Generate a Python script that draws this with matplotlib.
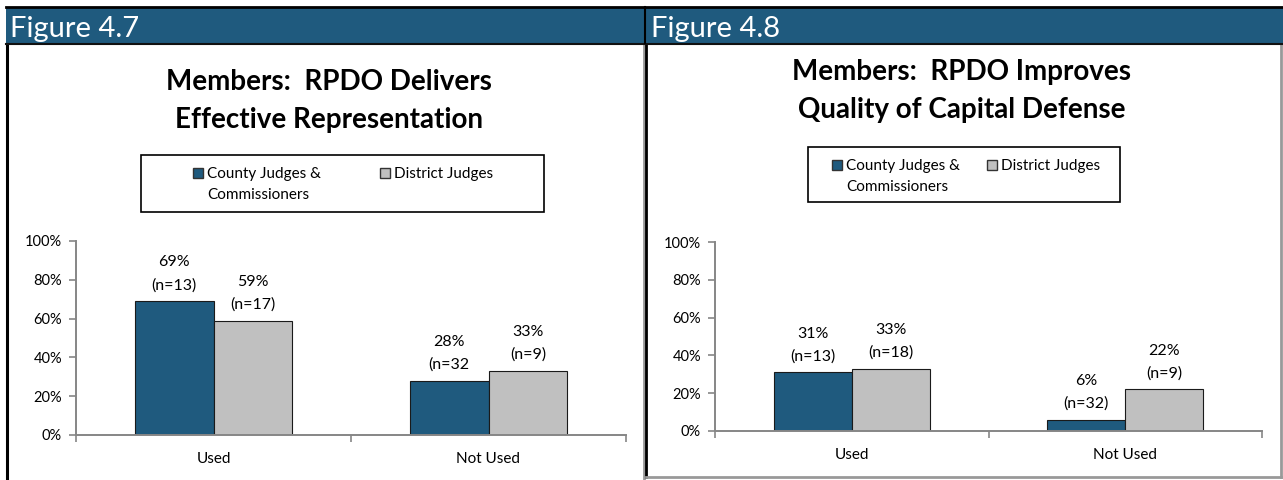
import matplotlib.pyplot as plt
from matplotlib.patches import Rectangle

plt.rcParams['font.family'] = ['Lato', 'DejaVu Sans']

# data
categories = ["Used", "Not Used"]
series_names = ["County Judges &\nCommissioners", "District Judges"]

fig47_title = "Members:  RPDO Delivers\nEffective Representation"
fig47_county = [0.69, 0.28]
fig47_district = [0.59, 0.33]
fig47_county_lbl = ["69%\n(n=13)", "28%\n(n=32"]
fig47_district_lbl = ["59%\n(n=17)", "33%\n(n=9)"]

fig48_title = "Members:  RPDO Improves\nQuality of Capital Defense"
fig48_county = [0.31, 0.06]
fig48_district = [0.33, 0.22]
fig48_county_lbl = ["31%\n(n=13)", "6%\n(n=32)"]
fig48_district_lbl = ["33%\n(n=18)", "22%\n(n=9)"]

yticks = [0, 0.2, 0.4, 0.6, 0.8, 1.0]
ytick_labels = ["0%", "20%", "40%", "60%", "80%", "100%"]

BLUE = "#1F5A7E"
GREY = "#C0C0C0"
AXIS = "#868686"

W, H = 1283, 480
fig = plt.figure(figsize=(W / 100, H / 100), dpi=100)


def px(x, y):
    return x / W, 1 - y / H


def rect(x0, y0, x1, y1, z=-5, **kw):
    fx, fy = px(x0, y1)
    r = Rectangle((fx, fy), (x1 - x0) / W, (y1 - y0) / H,
                  transform=fig.transFigure, zorder=z, **kw)
    fig.add_artist(r)


def vline(x, y0, y1, **kw):
    fig.add_artist(plt.Line2D([x / W, x / W], [1 - y0 / H, 1 - y1 / H], zorder=-4, **kw))


def hline(x0, x1, y, **kw):
    fig.add_artist(plt.Line2D([x0 / W, x1 / W], [1 - y / H, 1 - y / H], zorder=-4, **kw))


# panel frames
rect(7, 44, 644, 482, facecolor="white", edgecolor="none")
rect(646, 44, 1281, 477, facecolor="white", edgecolor="none")
vline(6.5, 44, 481, color="black", lw=2.2)
vline(643.5, 44, 481, color="#999999", lw=2)
vline(646.5, 44, 477, color="black", lw=2)
vline(1281, 44, 477, color="#999999", lw=2)
hline(646, 1281, 477, color="#999999", lw=2)

# header bars
rect(6, 7, 1283, 43, facecolor=BLUE, edgecolor="none")
hline(6, 1283, 7, color="black", lw=2)
hline(6, 1283, 43.5, color="#111111", lw=1.5)
vline(645, 7, 43, color="black", lw=1.5)
fig.text(*px(10, 37), "Figure 4.7", color="white", fontsize=21, va="baseline", ha="left")
fig.text(*px(651, 37), "Figure 4.8", color="white", fontsize=21, va="baseline", ha="left")


def draw_legend(box, marker_x, text_y):
    x0, y0, x1, y1 = box
    rect(x0, y0, x1, y1, z=3, facecolor="white", edgecolor="black", lw=1.2)
    colors = [BLUE, GREY]
    for name, mx, col in zip(series_names, marker_x, colors):
        rect(mx, text_y - 5, mx + 10, text_y + 5, z=4, facecolor=col,
             edgecolor="#333333", lw=1)
        fig.text(*px(mx + 14, text_y), name, fontsize=11, ha="left",
                 va="top", zorder=5, linespacing=1.35,
                 transform=fig.transFigure) if False else None
        lines = name.split("\n")
        for k, line in enumerate(lines):
            fig.text(*px(mx + 14, text_y + 5 + 21 * k), line, fontsize=11,
                     ha="left", va="baseline", zorder=5)


def draw_panel(ax_rect, title, title_x, title_y, county, district, c_lbl, d_lbl,
               leg_box, marker_x, leg_y, bar_w):
    ax = fig.add_axes(ax_rect)
    ax.patch.set_alpha(0)
    x = range(len(categories))
    b1 = ax.bar([i - bar_w for i in x], county, bar_w, align="edge",
                color=BLUE, edgecolor="#1a1a1a", lw=0.8)
    b2 = ax.bar(list(x), district, bar_w, align="edge",
                color=GREY, edgecolor="#1a1a1a", lw=0.8)
    for bars, labels in ((b1, c_lbl), (b2, d_lbl)):
        for b, t in zip(bars, labels):
            pct, n = t.split("\n")
            cx = b.get_x() + b.get_width() / 2
            ax.annotate(n, (cx, b.get_height()), xytext=(0, 8.5),
                        textcoords="offset points", ha="center",
                        va="baseline", fontsize=11.5)
            ax.annotate(pct, (cx, b.get_height()), xytext=(0, 25),
                        textcoords="offset points", ha="center",
                        va="baseline", fontsize=11.5)
    ax.set_xlim(-0.5, len(categories) - 0.5)
    ax.set_ylim(0, 1)
    ax.set_yticks(yticks)
    ax.set_yticklabels(ytick_labels, fontsize=10.5)
    ax.set_xticks([-0.5, 0.5, 1.5])
    ax.set_xticklabels([])
    ax.set_xticks(list(x), minor=True)
    ax.set_xticklabels(categories, minor=True, fontsize=11)
    ax.tick_params(axis="x", which="minor", length=0, pad=12)
    ax.tick_params(axis="both", which="major", direction="out", length=5,
                   color=AXIS, width=1.2)
    ax.tick_params(axis="y", pad=5)
    for s in ("top", "right"):
        ax.spines[s].set_visible(False)
    for s in ("left", "bottom"):
        ax.spines[s].set_color(AXIS)
        ax.spines[s].set_linewidth(1.4)
    for k, line in enumerate(title.split("\n")):
        fig.text(*px(title_x, title_y + 38 * k), line, ha="center",
                 va="baseline", fontsize=20, fontweight="bold")
    draw_legend(leg_box, marker_x, leg_y)
    return ax


draw_panel([76 / W, 1 - 435 / H, 550 / W, 194 / H], fig47_title, 329, 90,
           fig47_county, fig47_district, fig47_county_lbl, fig47_district_lbl,
           (141, 155, 544, 212), (193, 380), 173, 0.287)
draw_panel([715 / W, 1 - 431 / H, 547 / W, 189 / H], fig48_title, 962, 80,
           fig48_county, fig48_district, fig48_county_lbl, fig48_district_lbl,
           (808, 147, 1120, 202), (832, 987), 165, 0.285)

fig.savefig("out.png", dpi=100)
